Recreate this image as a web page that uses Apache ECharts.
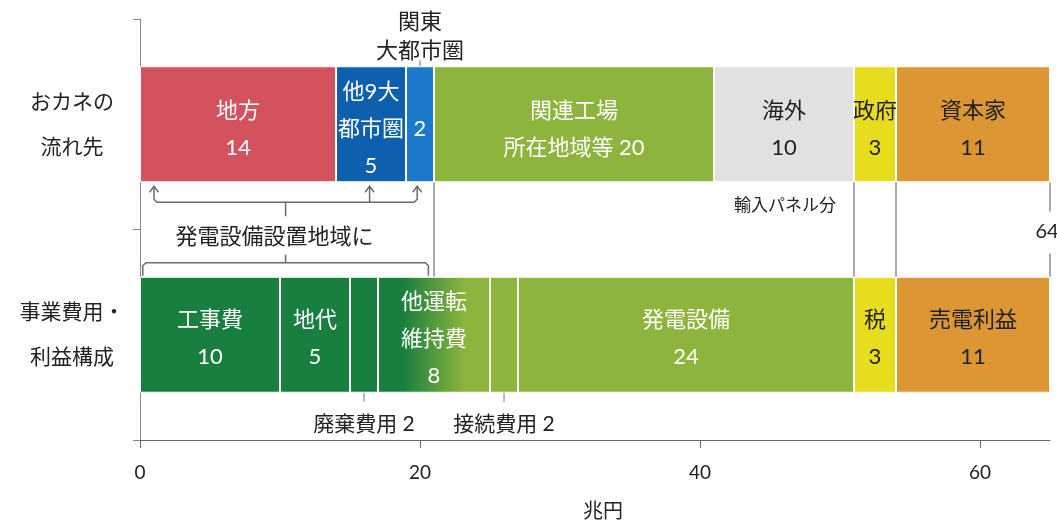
<!DOCTYPE html>
<html>
<head>
<meta charset="utf-8">
<script src="https://cdn.jsdelivr.net/npm/echarts@6/dist/echarts.min.js"></script>
<style>
  html, body { margin: 0; padding: 0; background: #fff; }
  #chart { width: 1057px; height: 527px; }
</style>
</head>
<body>
<div id="chart"></div>
<script>
// ---- data (兆円) ----
const rowLabels = ['おカネの\n流れ先', '事業費用・\n利益構成'];

const flowNames  = ['地方', '他9大都市圏', '関東大都市圏', '関連工場所在地域等', '海外', '政府', '資本家'];
const flowValues = [14, 5, 2, 20, 10, 3, 11];
const flowTexts  = ['地方\n{v}', '他9大\n都市圏\n{v}', '{v}', '関連工場\n所在地域等 {v}', '海外\n{v}', '政府\n{v}', '資本家\n{v}'];

const costNames  = ['工事費', '地代', '廃棄費用', '他運転維持費', '接続費用', '発電設備', '税', '売電利益'];
const costValues = [10, 5, 2, 8, 2, 24, 3, 11];
const costTexts  = ['工事費\n{v}', '地代\n{v}', '廃棄費用 {v}', '他運転\n維持費\n{v}', '接続費用 {v}', '発電設備\n{v}', '税\n{v}', '売電利益\n{v}'];

const xTicks = [0, 20, 40, 60];
const totalText = '64';

// ---- styles ----
const FONT = 'Lato, "Noto Sans CJK JP", sans-serif';
const DARK = '#222';
const GREEN_D = '#187f40';
const GREEN_L = '#8db43c';
const YELLOW = '#e8dc1e';
const ORANGE = '#dc9634';
const flowColors = ['#d3525d', '#0e5fae', '#1b7acb', GREEN_L, '#e1e1df', YELLOW, ORANGE];
const flowTextColors = ['#fff', '#fff', '#fff', '#fff', DARK, DARK, DARK];
const costColors = [GREEN_D, GREEN_D, GREEN_D, {
  type: 'linear', x: 0, y: 0, x2: 1, y2: 0,
  colorStops: [
    { offset: 0, color: GREEN_D }, { offset: 0.22, color: GREEN_D },
    { offset: 0.78, color: GREEN_L }, { offset: 1, color: GREEN_L }
  ]
}, GREEN_L, GREEN_L, YELLOW, ORANGE];
const costTextColors = ['#fff', '#fff', DARK, '#fff', DARK, '#fff', DARK, DARK];
const costOutside = [false, false, true, false, true, false, false, false];

const BAR_W = 116;
const LABEL_SIZE = 22;

const chart = echarts.init(document.getElementById('chart'), null, { renderer: 'canvas' });

const series = [];
flowValues.forEach((v, i) => series.push({
  name: flowNames[i], type: 'bar', stack: 'row', barWidth: BAR_W,
  data: [v, '-'],
  itemStyle: { color: flowColors[i], borderColor: '#fff', borderWidth: 1 },
  label: {
    show: true, position: 'inside', offset: [0, 5], formatter: flowTexts[i].replace('{v}', v),
    color: flowTextColors[i], fontSize: LABEL_SIZE, lineHeight: 37, fontFamily: FONT
  }
}));
costValues.forEach((v, i) => series.push({
  name: costNames[i], type: 'bar', stack: 'row', barWidth: BAR_W,
  data: ['-', v],
  itemStyle: { color: costColors[i], borderColor: '#fff', borderWidth: 1 },
  label: {
    show: true, position: costOutside[i] ? 'bottom' : 'inside', distance: 13,
    offset: costOutside[i] ? [0, 0] : [0, 4],
    formatter: costTexts[i].replace('{v}', v),
    color: costTextColors[i], fontSize: costOutside[i] ? 21 : LABEL_SIZE, lineHeight: 37, fontFamily: FONT
  }
}));

const total = flowValues.reduce((a, b) => a + b, 0);

chart.setOption({
  animation: false,
  textStyle: { fontFamily: FONT },
  grid: { left: 140, right: 7, top: 19, bottom: 87 },
  xAxis: {
    type: 'value', min: 0, max: total, interval: 20,
    name: '兆円', nameLocation: 'middle', nameGap: 62,
    nameTextStyle: { fontSize: 20, color: DARK, fontFamily: FONT, padding: [0, 0, 0, 16] },
    axisLine: { show: true, lineStyle: { color: '#666', width: 1 } },
    axisTick: { show: true, length: 8, customValues: xTicks, lineStyle: { color: '#666' } },
    axisLabel: { customValues: xTicks, fontSize: 19, color: DARK, margin: 23, fontFamily: FONT },
    splitLine: { show: false }
  },
  yAxis: {
    type: 'category', inverse: true, data: rowLabels,
    axisLine: { show: true, lineStyle: { color: '#888', width: 1 } },
    axisTick: { show: true, length: 7, lineStyle: { color: '#888' } },
    axisLabel: { fontSize: 21, lineHeight: 45, color: DARK, align: 'center', margin: 68, fontFamily: FONT }
  },
  series: series
});

// ---- annotations, placed from data coordinates ----
const X = v => chart.convertToPixel({ xAxisIndex: 0 }, v);
const Y = i => chart.convertToPixel({ yAxisIndex: 0 }, i);
const cum = arr => arr.reduce((acc, v, i) => (acc.push((i ? acc[i - 1] : 0) + v), acc), []);
const flowEnd = cum(flowValues);
const costEnd = cum(costValues);

const topTop = Y(0) - BAR_W / 2;
const topBot = Y(0) + BAR_W / 2;
const botTop = Y(1) - BAR_W / 2;
const botBot = Y(1) + BAR_W / 2;

const LINE = { stroke: '#6b6b6b', lineWidth: 1.5, fill: null };
const GUIDE = { stroke: '#555', lineWidth: 1 };
const elements = [];
const line = (x1, y1, x2, y2, style) => elements.push({
  type: 'line', silent: true, shape: { x1, y1, x2, y2 }, style: style || LINE
});
const poly = (points) => elements.push({ type: 'polyline', silent: true, shape: { points }, style: LINE });
const text = (t, x, y, opts) => elements.push({
  type: 'text', silent: true, x, y,
  style: Object.assign({ text: t, fill: DARK, font: '21px ' + FONT, align: 'center', verticalAlign: 'middle' }, opts || {})
});

// 関東大都市圏 callout
const kantoX = X(flowEnd[2] - flowValues[2] / 2);
text('関東', kantoX, topTop - 44, { font: '22px ' + FONT });
text('大都市圏', kantoX, topTop - 15, { font: '22px ' + FONT });
line(kantoX, topTop - 6, kantoX, topTop, { stroke: '#777', lineWidth: 1 });

// upper bracket with arrows pointing to regional destinations
const arrowAt = [1, 16.4, 19.8];
const ub = topBot + 20;
const a0 = X(arrowAt[0]), a1 = X(arrowAt[1]), a2 = X(arrowAt[2]);
poly([[a0, topBot + 4], [a0, ub - 3], [a0 + 3, ub], [a2 - 3, ub], [a2, ub - 3], [a2, topBot + 4]]);
line(a1, ub, a1, topBot + 4);
[a0, a1, a2].forEach(ax => poly([[ax - 4.5, topBot + 10], [ax, topBot + 4], [ax + 4.5, topBot + 10]]));
const stemX = X(10.4);
line(stemX, ub, stemX, ub + 14);
text('発電設備設置地域に', X(9.6), topBot + 55, { font: '22px ' + FONT });

// lower bracket over the regional cost items
const lb = botTop - 14;
const b0 = X(0.2), b1 = X(20.6);
poly([[b0, botTop - 1], [b0, lb + 3], [b0 + 3, lb], [b1 - 3, lb], [b1, lb + 3], [b1, botTop - 1]]);
line(stemX, lb, stemX, lb - 8);

// guide lines between the two rows
[flowEnd[2], flowEnd[4], flowEnd[5]].forEach(v => line(X(v), topBot, X(v), botTop, GUIDE));
const tx = X(total);
const midY = (topBot + botTop) / 2 + 2;
line(tx, topBot, tx, midY - 20, GUIDE);
line(tx, midY + 22, tx, botTop, GUIDE);
text(totalText, tx - 3, midY, { font: '20px ' + FONT });

// imported panel note
text('輸入パネル分', X(flowEnd[4]) - 18, topBot + 23, { align: 'right', font: '17px ' + FONT });

// leader ticks for the small cost items labelled below the bar
[2, 4].forEach(i => {
  const cx = X(costEnd[i] - costValues[i] / 2);
  line(cx, botBot - 4, cx, botBot + 9, { stroke: '#777', lineWidth: 1 });
});

chart.setOption({ graphic: { elements } });
</script>
</body>
</html>
